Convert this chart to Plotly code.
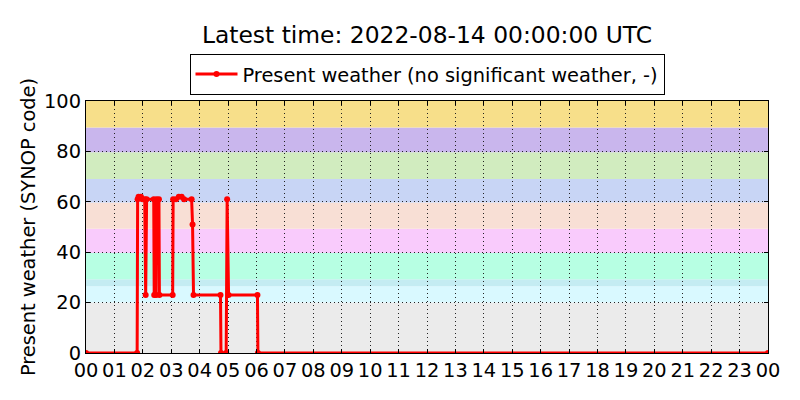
import plotly.graph_objects as go

DAY = "2022-08-13"
times = ["00:00", "01:48", "01:49", "01:51", "01:56", "01:59",
         "02:04", "02:06", "02:08",
         "02:23", "02:24", "02:28", "02:29", "02:34", "02:35",
         "03:03", "03:04",
         "03:10", "03:16", "03:22", "03:27",
         "03:43", "03:45", "03:47",
         "04:44", "04:45",
         "04:56", "04:58", "05:01",
         "06:02", "06:03"]
values = [0, 0, 61, 62, 62, 61,
          61, 23, 61,
          61, 23, 23, 61, 61, 23,
          23, 61,
          61, 62, 62, 61,
          61, 51, 23,
          23, 0,
          0, 61, 23,
          23, 0]
end_time = "2022-08-14 00:00"
end_value = 0

x_vals = [f"{DAY} {t}" for t in times] + [end_time]
y_vals = values + [end_value]

band_edges = [0, 20, 26.5, 29.3, 39.7, 49.3, 59.7, 69.0, 79.7, 89.5, 100]
band_colors = ["#ebebeb", "#d9f9ff", "#c4ecf2", "#b7ffe3", "#f9cbfc",
               "#f8dfd5", "#c8d5f5", "#d1ecbf", "#c9b6ed", "#f7df8a"]

y_ticks = [0, 20, 40, 60, 80, 100]

FONT = "DejaVu Sans"
FS = 19.4
OFF = 8  # page body margin in the browser

fig = go.Figure()
fig.add_trace(go.Scatter(
    x=x_vals, y=y_vals, mode="lines+markers",
    name="Present weather (no significant weather, -)",
    line=dict(color="#ff0000", width=3),
    marker=dict(color="#ff0000", size=6, symbol="circle"),
))

shapes = []
for i, c in enumerate(band_colors):
    shapes.append(dict(type="rect", xref="paper", yref="y", x0=0, x1=1,
                       y0=band_edges[i], y1=band_edges[i + 1],
                       fillcolor=c, line=dict(width=0), layer="below"))

fig.update_layout(
    width=800, height=400,
    margin=dict(l=86 - OFF, r=32 + OFF, t=101 - OFF, b=47 + OFF),
    paper_bgcolor="white", plot_bgcolor="white",
    font=dict(family=FONT, size=FS, color="black"),
    title=dict(text="Latest time: 2022-08-14 00:00:00 UTC",
               x=0.5, xref="paper", xanchor="center",
               y=1 - (35 - OFF) / 400, yref="container", yanchor="middle",
               font=dict(size=23.4, family=FONT, color="black")),
    showlegend=True,
    legend=dict(orientation="h", x=0.5, xanchor="center",
                y=1 + (101 - 54) / 252, yanchor="top",
                bordercolor="black", borderwidth=1, bgcolor="white",
                itemwidth=42,
                font=dict(size=FS, family=FONT)),
    shapes=shapes,
    xaxis=dict(type="date", range=[f"{DAY} 00:00", end_time],
               dtick=3600000, tickformat="%H", automargin=False,
               showgrid=True, gridcolor="#222222", griddash="1px,3px", gridwidth=1,
               showline=True, linecolor="black", linewidth=1.2, mirror="ticks",
               ticks="inside", ticklen=4, tickcolor="black",
               zeroline=False, tickfont=dict(size=FS)),
    yaxis=dict(range=[0, 100], tickvals=y_ticks, automargin=False,
               showgrid=True, gridcolor="#222222", griddash="1px,3px", gridwidth=1,
               showline=True, linecolor="black", linewidth=1.2, mirror="ticks",
               ticks="inside", ticklen=4, tickcolor="black",
               zeroline=False, tickfont=dict(size=FS),
               title=dict(text="Present weather (SYNOP code)", font=dict(size=FS), standoff=3)),
)

fig.write_html("out.html")
